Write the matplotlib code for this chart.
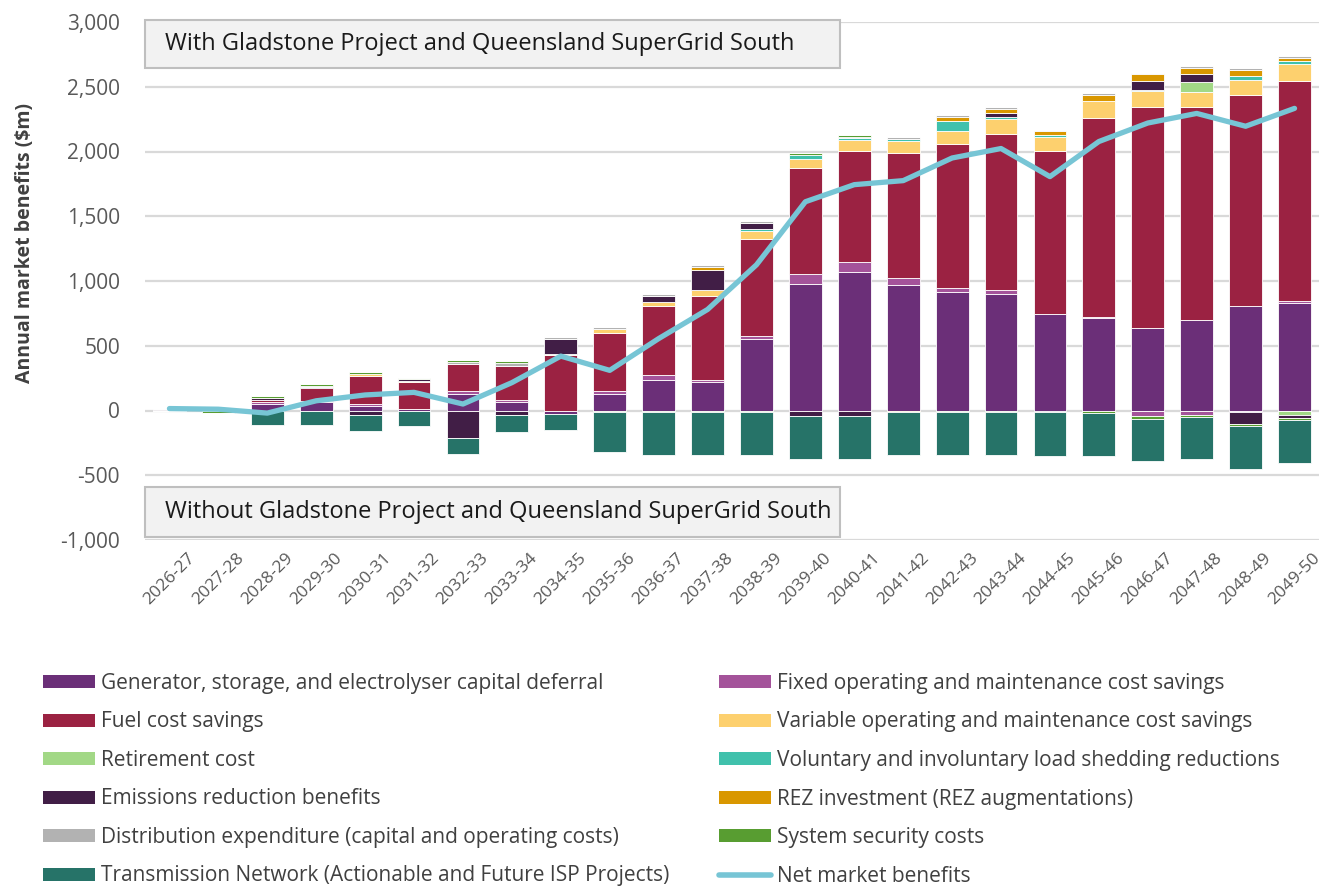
import matplotlib
matplotlib.use("Agg")
import matplotlib.pyplot as plt
from matplotlib.patches import Rectangle, Patch
from matplotlib.lines import Line2D
import numpy as np

years = ["2026-27", "2027-28", "2028-29", "2029-30", "2030-31", "2031-32", "2032-33", "2033-34",
         "2034-35", "2035-36", "2036-37", "2037-38", "2038-39", "2039-40", "2040-41", "2041-42",
         "2042-43", "2043-44", "2044-45", "2045-46", "2046-47", "2047-48", "2048-49", "2049-50"]

capital_deferral = [0, 0, 50, 65, 35, 12, 128, 67, -28, 128, 239, 221, 553, 976, 1066, 971,
                    913, 898, 744, 718, 635, 698, 806, 827]
fixed_om = [0, 0, 15, 5, 15, 0, 20, 13, 0, 20, 33, 18, 20, 78, 80, 49,
            36, 33, 5, 5, -46, -31, -10, 15]
fuel = [3, 0, 13, 105, 217, 205, 210, 264, 425, 448, 533, 644, 752, 822, 859, 968,
        1111, 1206, 1253, 1537, 1708, 1645, 1630, 1705]
variable_om = [0, 8, 0, 0, 15, 12, 0, 0, 15, 31, 33, 51, 64, 64, 85, 95,
               98, 115, 111, 127, 124, 113, 116, 130]
retirement = [0, 0, 0, 0, 0, 0, 0, 0, 0, 0, 0, 0, 0, 0, 0, 0,
              0, 0, 0, 0, 0, 78, 0, -31]
load_shedding = [0, 0, 0, 0, 0, 0, 0, 0, 0, 0, 0, 0, 15, 33, 15, 15,
                 76, 13, 15, 0, 8, 0, 28, 18]
emissions = [12, 0, 18, 10, -38, 12, -210, -38, 110, 0, 46, 154, 43, -41, -41, 0,
             0, 33, -15, 0, 72, 65, -95, -25]
rez = [0, 0, 0, 0, 0, 0, 0, 0, 0, 0, 0, 18, 0, 0, 0, -10,
       31, 31, 28, 46, 48, 46, 48, 28]
distribution = [0, 0, 0, 5, 0, 0, 18, 20, 15, 18, 18, 15, 18, 0, 10, 13,
                13, 18, 13, 18, 13, 15, 13, 15]
system_security = [0, -20, 13, 12, 15, 13, 15, 15, 0, -15, -15, -15, -15, 18, 15, 0,
                   -15, -15, 0, -18, -18, -18, -18, -20]
transmission = [0, 0, -115, -115, -122, -118, -128, -128, -123, -305, -326, -326, -326, -333, -333, -333,
                -328, -328, -336, -331, -328, -328, -330, -333]
net_benefits = [15, 10, -20, 75, 120, 140, 50, 215, 420, 310, 555, 780, 1125, 1612, 1744, 1775,
                1950, 2023, 1806, 2077, 2220, 2294, 2195, 2333]

series = [
    ("Generator, storage, and electrolyser capital deferral", capital_deferral, "#6B2F78"),
    ("Fixed operating and maintenance cost savings", fixed_om, "#A4539A"),
    ("Fuel cost savings", fuel, "#9B2242"),
    ("Variable operating and maintenance cost savings", variable_om, "#FDD06E"),
    ("Retirement cost", retirement, "#A2D886"),
    ("Voluntary and involuntary load shedding reductions", load_shedding, "#40C1AC"),
    ("Emissions reduction benefits", emissions, "#411E46"),
    ("REZ investment (REZ augmentations)", rez, "#D99700"),
    ("Distribution expenditure (capital and operating costs)", distribution, "#B2B2B2"),
    ("System security costs", system_security, "#589D31"),
    ("Transmission Network (Actionable and Future ISP Projects)", transmission, "#267368"),
]
net_label = "Net market benefits"
net_color = "#77C5D5"

FONT = "Open Sans"
TXT = "#404040"

fig = plt.figure(figsize=(13.24, 8.89), dpi=100)
ax = fig.add_axes([145 / 1324, 1 - 540 / 889, 1174 / 1324, 518 / 889])

x = np.arange(len(years))
pos_bottom = np.zeros(len(years))
neg_bottom = np.zeros(len(years))
for name, vals, col in series:
    v = np.array(vals, dtype=float)
    p = np.where(v > 0, v, 0)
    n = np.where(v < 0, v, 0)
    ax.bar(x, p, 0.67, bottom=pos_bottom, color=col, edgecolor="white", linewidth=0.6, zorder=2)
    ax.bar(x, n, 0.67, bottom=neg_bottom, color=col, edgecolor="white", linewidth=0.6, zorder=2)
    pos_bottom += p
    neg_bottom += n

ax.plot(x, net_benefits, color=net_color, lw=3.8, solid_capstyle="round", solid_joinstyle="round", zorder=5)

ax.set_xlim(-0.5, len(years) - 0.5)
ax.set_ylim(-1000, 3000)
ax.set_yticks(np.arange(-1000, 3001, 500))
ax.set_yticklabels([f"{v:,}" for v in range(-1000, 3001, 500)], fontsize=15, color="#595959", family=FONT)
ax.set_xticks(x)
ax.set_xticklabels(years, rotation=45, ha="center", va="top", fontsize=12.5, color="#595959", family=FONT)
ax.tick_params(axis="both", length=0)
ax.tick_params(axis="y", pad=18)
ax.tick_params(axis="x", pad=7)
for s in ax.spines.values():
    s.set_visible(False)
ax.set_axisbelow(True)
ax.yaxis.grid(True, color="#D9D9D9", lw=1.6)

ax.set_ylabel("Annual market benefits ($m)", fontsize=14, fontweight="bold", color="#404040", family=FONT)
ax.yaxis.set_label_coords(-0.094, 0.573)

# Scenario boxes
box_w = 695 / 1174
for (y0, h, label) in [(0.911, 0.093, "With Gladstone Project and Queensland SuperGrid South"),
                       (0.006, 0.096, "Without Gladstone Project and Queensland SuperGrid South")]:
    ax.add_patch(Rectangle((0.0, y0), box_w, h, transform=ax.transAxes, facecolor="#F2F2F2",
                           edgecolor="#BFBFBF", lw=1.5, zorder=6, clip_on=False))
    ax.text(20 / 1174, y0 + h / 2, label, transform=ax.transAxes, ha="left", va="center",
            fontsize=17, color="#1A1A1A", family=FONT, zorder=7)

# Legends
handles = [Patch(facecolor=c, edgecolor="none", label=n) for n, _, c in series]
net_handle = Line2D([0], [0], color=net_color, lw=4, solid_capstyle="round", label=net_label)
left = [handles[i] for i in (0, 2, 4, 6, 8, 10)]
right = [handles[i] for i in (1, 3, 5, 7, 9)] + [net_handle]
common = dict(frameon=False, handlelength=2.5, handleheight=0.6, handletextpad=0.3,
              labelspacing=0.84, borderpad=0, borderaxespad=0, loc="upper left",
              prop={"family": FONT, "size": 15})
lg1 = fig.legend(handles=left, bbox_to_anchor=(43 / 1324, 1 - 673 / 889), **common)
lg2 = fig.legend(handles=right, bbox_to_anchor=(719 / 1324, 1 - 673 / 889), **common)
for lg in (lg1, lg2):
    for t in lg.get_texts():
        t.set_color(TXT)

fig.savefig("out.png", dpi=100)
